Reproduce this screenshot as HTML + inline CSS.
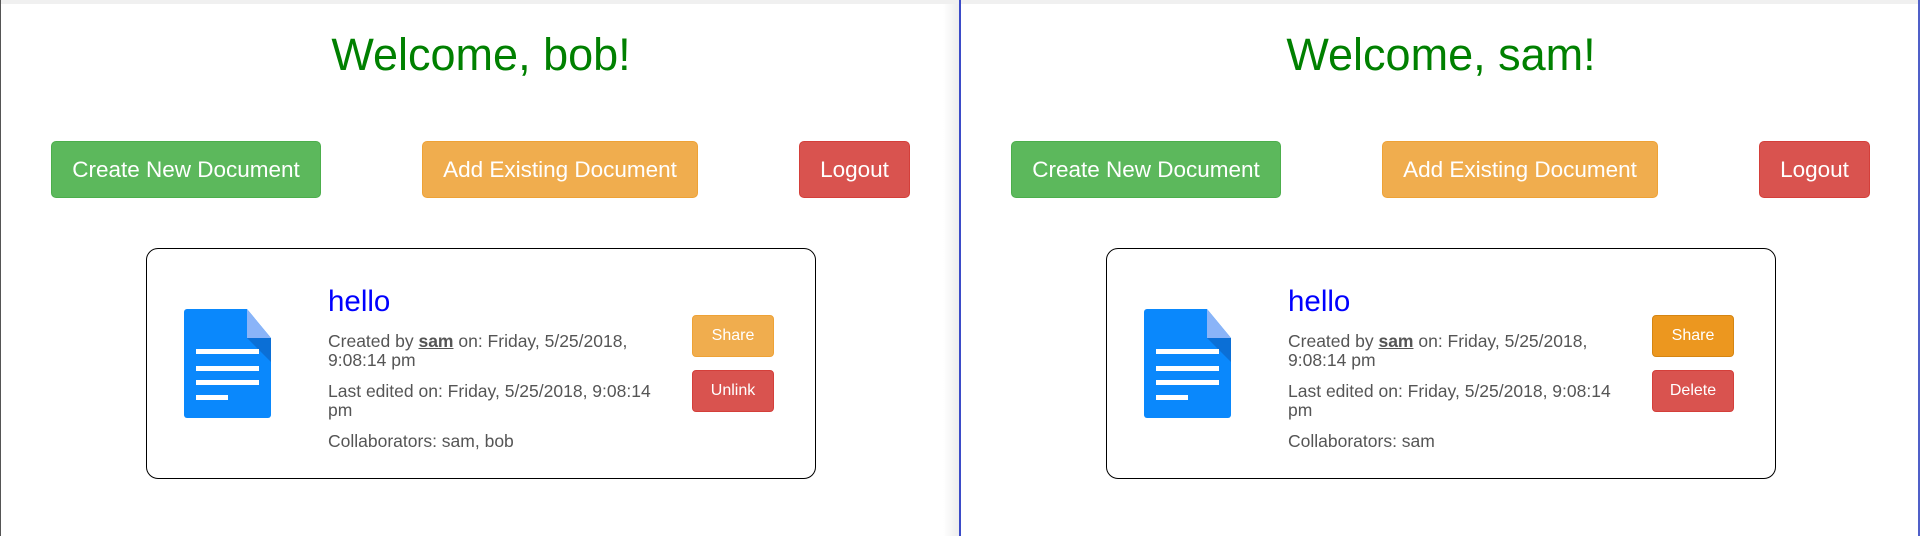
<!DOCTYPE html>
<html><head><meta charset="utf-8"><style>
*{margin:0;padding:0;box-sizing:border-box}
body{width:1920px;height:536px;background:#fff;position:relative;overflow:hidden;font-family:"Liberation Sans",Arial,sans-serif}
.topbar{position:absolute;left:0;top:0;width:1920px;height:4px;background:#f0f0f0}
.panel{position:absolute;top:0;width:960px;height:536px}
.a{position:absolute}
.title{left:0;width:962px;text-align:center;top:30px;font-size:45px;color:#008000;line-height:50px}
.btn{position:absolute;color:#fff;border-radius:5px;text-align:center;display:flex;align-items:center;justify-content:center}
.big{top:141px;height:57px;font-size:22.5px}
.green{background:#5cb85c;border:1px solid #4cae4c}
.orange{background:#f0ad4e;border:1px solid #eea236}
.red{background:#d9534f;border:1px solid #d43f3a}
.dark{background:#ec971f;border:1px solid #d58512}
.card{left:146px;top:248px;width:670px;height:231px;border:1px solid #000;border-radius:12px}
.hello{left:328px;top:286px;font-size:29.5px;color:#0000ff;line-height:32px}
.txt{left:328px;width:330px;font-size:17.5px;color:#555;line-height:19px}
.sm{left:692px;width:82px;height:42px;font-size:16px;border-radius:4px}
</style></head><body>
<div class="topbar"></div>
<div class="a" style="left:0;top:0;width:1px;height:536px;background:#555"></div>
<div class="a" style="left:943px;top:4px;width:16px;height:532px;background:linear-gradient(to right,rgba(0,0,0,0),rgba(0,0,0,0.07))"></div>
<div class="a" style="left:959px;top:0;width:2px;height:536px;background:#3b4bc8"></div>
<div class="a" style="left:1918px;top:0;width:2px;height:536px;background:#5060c8"></div>

<div class="panel" style="left:0">
<div class="a title">Welcome, bob!</div>
<div class="btn big green" style="left:51px;width:270px">Create New Document</div>
<div class="btn big orange" style="left:422px;width:276px">Add Existing Document</div>
<div class="btn big red" style="left:799px;width:111px">Logout</div>
<div class="a card"></div>
<svg class="a" style="left:184px;top:309px" width="88" height="109" viewBox="0 0 88 109">
<path d="M3 0H63L87 29V106a3 3 0 0 1-3 3H3a3 3 0 0 1-3-3V3a3 3 0 0 1 3-3z" fill="#0a88fc"/>
<path d="M63 0L87 29H63z" fill="#8ab4f8"/><path d="M63 29H87V53z" fill="#0b6fd6"/>
<rect x="12" y="40" width="63" height="5" fill="#fff"/><rect x="12" y="57" width="63" height="5" fill="#fff"/><rect x="12" y="71" width="63" height="5" fill="#fff"/><rect x="12" y="86" width="32" height="5" fill="#fff"/></svg>
<div class="a hello">hello</div>
<div class="a txt" style="top:332px">Created by <b style="text-decoration:underline">sam</b> on: Friday, 5/25/2018, 9:08:14 pm</div>
<div class="a txt" style="top:382px">Last edited on: Friday, 5/25/2018, 9:08:14 pm</div>
<div class="a txt" style="top:432px">Collaborators: sam, bob</div>
<div class="btn sm orange" style="top:315px">Share</div>
<div class="btn sm red" style="top:370px">Unlink</div>
</div>

<div class="panel" style="left:960px">
<div class="a title">Welcome, sam!</div>
<div class="btn big green" style="left:51px;width:270px">Create New Document</div>
<div class="btn big orange" style="left:422px;width:276px">Add Existing Document</div>
<div class="btn big red" style="left:799px;width:111px">Logout</div>
<div class="a card"></div>
<svg class="a" style="left:184px;top:309px" width="88" height="109" viewBox="0 0 88 109">
<path d="M3 0H63L87 29V106a3 3 0 0 1-3 3H3a3 3 0 0 1-3-3V3a3 3 0 0 1 3-3z" fill="#0a88fc"/>
<path d="M63 0L87 29H63z" fill="#8ab4f8"/><path d="M63 29H87V53z" fill="#0b6fd6"/>
<rect x="12" y="40" width="63" height="5" fill="#fff"/><rect x="12" y="57" width="63" height="5" fill="#fff"/><rect x="12" y="71" width="63" height="5" fill="#fff"/><rect x="12" y="86" width="32" height="5" fill="#fff"/></svg>
<div class="a hello">hello</div>
<div class="a txt" style="top:332px">Created by <b style="text-decoration:underline">sam</b> on: Friday, 5/25/2018, 9:08:14 pm</div>
<div class="a txt" style="top:382px">Last edited on: Friday, 5/25/2018, 9:08:14 pm</div>
<div class="a txt" style="top:432px">Collaborators: sam</div>
<div class="btn sm dark" style="top:315px">Share</div>
<div class="btn sm red" style="top:370px">Delete</div>
</div>
</body></html>
